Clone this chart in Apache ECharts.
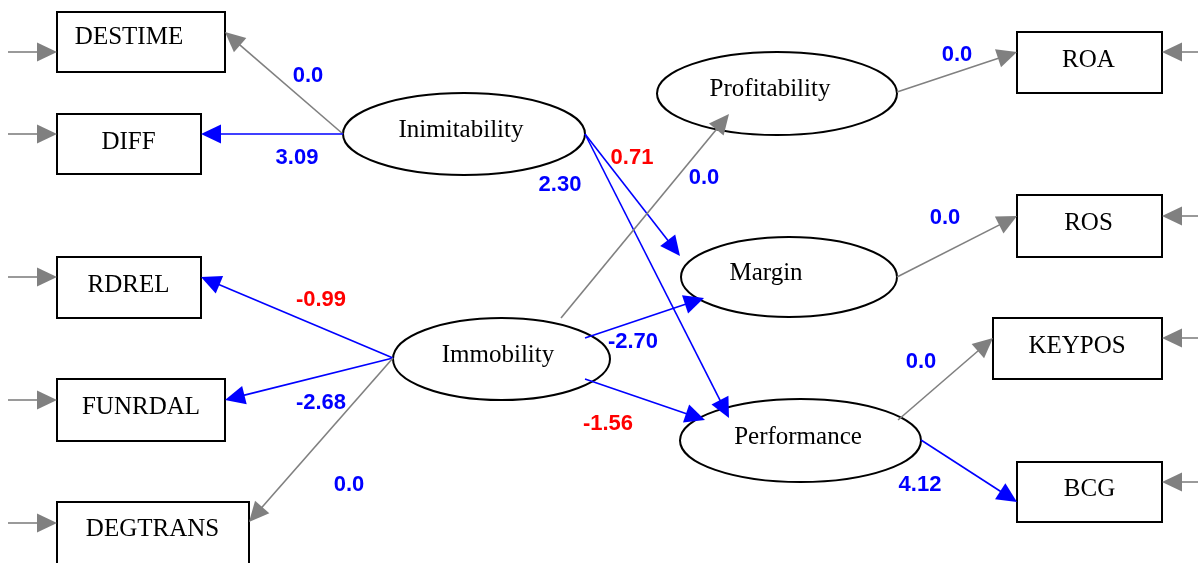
<!DOCTYPE html>
<html><head><meta charset="utf-8">
<script src="https://cdn.jsdelivr.net/npm/echarts@6/dist/echarts.min.js"></script>
<style>html,body{margin:0;padding:0;background:#fff}#c{width:1198px;height:563px}</style>
</head><body><div id="c"></div>
<script>
// ---------- data ----------
const observedVars = ['DESTIME','DIFF','RDREL','FUNRDAL','DEGTRANS','ROA','ROS','KEYPOS','BCG'];
const latentVars = ['Inimitability','Immobility','Profitability','Margin','Performance'];
const pathFrom = ['Inimitability','Inimitability','Inimitability','Inimitability','Immobility','Immobility','Immobility','Immobility','Immobility','Immobility','Profitability','Margin','Performance','Performance'];
const pathTo   = ['DESTIME','DIFF','Margin','Performance','Profitability','RDREL','FUNRDAL','DEGTRANS','Margin','Performance','ROA','ROS','KEYPOS','BCG'];
const pathCoef = [0.0, 3.09, 0.71, 2.30, 0.0, -0.99, -2.68, 0.0, -2.70, -1.56, 0.0, 0.0, 0.0, 4.12];
const pathFlagged = [false,false,true,false,false,true,false,false,false,true,false,false,false,false];

// ---------- layout (diagram geometry, in pixel-space of the hidden axes) ----------
const boxRect = {
  DESTIME:[57,12,225,72], DIFF:[57,114,201,174], RDREL:[57,257,201,318],
  FUNRDAL:[57,379,225,441], DEGTRANS:[57,502,249,566],
  ROA:[1017,32,1162,93], ROS:[1017,195,1162,257], KEYPOS:[993,318,1162,379], BCG:[1017,462,1162,522]
};
const boxText = {
  DESTIME:[129,37], DIFF:[128.5,142], RDREL:[128.5,285], FUNRDAL:[141,407], DEGTRANS:[152.5,529],
  ROA:[1088.5,60], ROS:[1088.5,223], KEYPOS:[1077,346], BCG:[1089.5,489]
};
const errArrow = {
  DESTIME:[8,52,57], DIFF:[8,134,57], RDREL:[8,277,57], FUNRDAL:[8,400,57], DEGTRANS:[8,523,57],
  ROA:[1200,52,1162], ROS:[1200,216,1162], KEYPOS:[1200,338,1162], BCG:[1200,482,1162]
};
const ellipseGeo = {
  Inimitability:[464,134,121,41], Immobility:[501.5,359,108.5,41], Profitability:[777,93.5,120,41.5],
  Margin:[789,277,108,40], Performance:[800.5,440.5,120.5,41.5]
};
const ellipseText = {
  Inimitability:[461,130], Immobility:[498,355], Profitability:[770,89], Margin:[766,273], Performance:[798,437]
};
const pathAnchor = [
  [[343,134],[225,32]], [[343,134],[201,134]], [[585,134],[680,256]], [[585,134],[729,418]],
  [[561,318],[729,114]], [[393,358],[201,277]], [[393,358],[225,400]], [[393,358],[249,522]],
  [[585,338],[704,298]], [[585,379],[705,420]], [[897,92],[1017,52]], [[897,277],[1017,216]],
  [[898,420],[993,338]], [[921,440],[1017,502]]
];
const labelPos = [[308,76],[297,158],[632,158],[560,185],[704,178],[321,300],[321,403],[349,485],
  [633,342],[608,424],[957,55],[945,218],[921,362],[920,485]];

const BLUE = '#0000ff', GRAY = '#808080', RED = '#ff0000';
const SERIF = '"Liberation Serif","Times New Roman",serif';
const SANS = '"Liberation Sans",Arial,sans-serif';

function fmt(v){ return v === 0 ? '0.0' : v.toFixed(2); }

function arrow(api, a, b, color, lw){
  const p0 = api.coord(a), p1 = api.coord(b);
  const dx = p1[0]-p0[0], dy = p1[1]-p0[1], L = Math.hypot(dx,dy);
  const ux = dx/L, uy = dy/L, hl = 20, hw = 9.5;
  const base = [p1[0]-ux*hl, p1[1]-uy*hl];
  return [
    {type:'line', shape:{x1:p0[0],y1:p0[1],x2:base[0]+ux*2,y2:base[1]+uy*2}, style:{stroke:color,lineWidth:lw}},
    {type:'polygon', shape:{points:[p1,[base[0]-uy*hw,base[1]+ux*hw],[base[0]+uy*hw,base[1]-ux*hw]]}, style:{fill:color}}
  ];
}

const chart = echarts.init(document.getElementById('c'), null, {renderer:'canvas'});
chart.setOption({
  animation:false,
  backgroundColor:'#fff',
  grid:{left:0,right:0,top:0,bottom:0},
  xAxis:{type:'value',min:0,max:1198,show:false},
  yAxis:{type:'value',min:0,max:563,inverse:true,show:false},
  series:[
    { // observed variables (boxes) with error arrows
      type:'custom', coordinateSystem:'cartesian2d', clip:false,
      data: observedVars.map((n,i)=>[i]),
      renderItem(params, api){
        const n = observedVars[params.dataIndex];
        const r = boxRect[n];
        const a = api.coord([r[0],r[1]]), b = api.coord([r[2],r[3]]);
        const t = api.coord(boxText[n]);
        const e = errArrow[n];
        return {type:'group', children:[
          {type:'rect', shape:{x:a[0],y:a[1],width:b[0]-a[0],height:b[1]-a[1]}, style:{fill:'#fff',stroke:'#000',lineWidth:2}},
          {type:'text', x:t[0], y:t[1], style:{text:n, fill:'#000', fontSize:25, fontFamily:SERIF, align:'center', verticalAlign:'middle'}},
          ...arrow(api,[e[0],e[1]],[e[2],e[1]],GRAY,1.6)
        ]};
      }
    },
    { // latent variables (ellipses)
      type:'custom', coordinateSystem:'cartesian2d', clip:false,
      data: latentVars.map((n,i)=>[i]),
      renderItem(params, api){
        const n = latentVars[params.dataIndex];
        const g = ellipseGeo[n];
        const c = api.coord([g[0],g[1]]);
        const t = api.coord(ellipseText[n]);
        return {type:'group', children:[
          {type:'ellipse', shape:{cx:c[0],cy:c[1],rx:g[2],ry:g[3]}, style:{fill:'#fff',stroke:'#000',lineWidth:2}},
          {type:'text', x:t[0], y:t[1], style:{text:n, fill:'#000', fontSize:25, fontFamily:SERIF, align:'center', verticalAlign:'middle'}}
        ]};
      }
    },
    { // paths
      type:'custom', coordinateSystem:'cartesian2d', clip:false,
      data: pathCoef.map((v,i)=>[i,v]),
      renderItem(params, api){
        const i = params.dataIndex;
        const v = pathCoef[i];
        const color = v === 0 ? GRAY : BLUE;
        const lp = api.coord(labelPos[i]);
        return {type:'group', children:[
          ...arrow(api, pathAnchor[i][0], pathAnchor[i][1], color, 1.6),
          {type:'text', x:lp[0], y:lp[1], style:{text:fmt(v), fill: pathFlagged[i] ? RED : BLUE, fontSize:22, fontWeight:'bold', fontFamily:SANS, align:'center', verticalAlign:'middle'}}
        ]};
      }
    }
  ]
});
</script></body></html>
